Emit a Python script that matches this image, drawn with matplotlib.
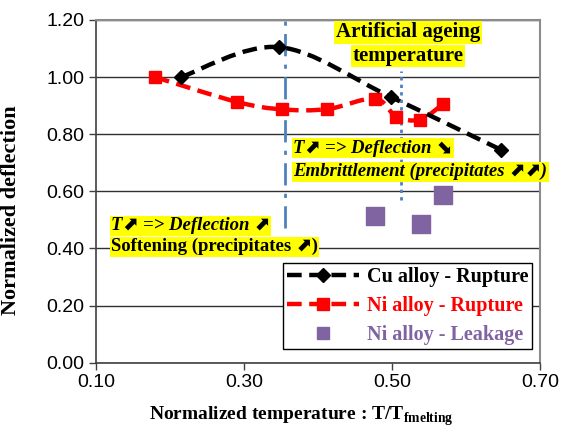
import matplotlib
matplotlib.use("Agg")
import matplotlib.pyplot as plt
import numpy as np
from matplotlib.lines import Line2D
from matplotlib.path import Path
from matplotlib.patches import PathPatch

# ---- data ----
cu_x = [0.215, 0.348, 0.499, 0.648]
cu_y = [1.00, 1.105, 0.93, 0.745]

ni_x = [0.18, 0.291, 0.352, 0.413, 0.477, 0.506, 0.538, 0.569]
ni_y = [1.00, 0.913, 0.887, 0.888, 0.925, 0.862, 0.851, 0.905]

leak_x = [0.477, 0.539, 0.569]
leak_y = [0.512, 0.487, 0.586]

x_ticks = [0.10, 0.30, 0.50, 0.70]
y_ticks = [0.00, 0.20, 0.40, 0.60, 0.80, 1.00, 1.20]

soft_line_x = 0.356
soft_line_y = [0.47, 1.20]
age_line_x = 0.512
age_line_y = [0.57, 1.02]

plt.rcParams['mathtext.fontset'] = 'custom'
plt.rcParams['mathtext.bf'] = 'Liberation Serif:bold'
plt.rcParams['mathtext.rm'] = 'Liberation Serif'


def smooth_path(xs, ys):
    pts = np.column_stack([xs, ys]).astype(float)
    n = len(pts)
    verts = [pts[0]]
    codes = [Path.MOVETO]
    for i in range(n - 1):
        p0 = pts[i - 1] if i > 0 else pts[i]
        p1 = pts[i]
        p2 = pts[i + 1]
        p3 = pts[i + 2] if i + 2 < n else pts[i + 1]
        c1 = p1 + (p2 - p0) / 6.0
        c2 = p2 - (p3 - p1) / 6.0
        verts += [c1, c2, p2]
        codes += [Path.CURVE4] * 3
    return Path(verts, codes)


fig = plt.figure(figsize=(5.67, 4.30), dpi=100)
ax = fig.add_axes([0.169, 0.1565, 0.783, 0.797])

ax.set_xlim(0.10, 0.70)
ax.set_ylim(0.0, 1.20)
ax.set_xticks(x_ticks)
ax.set_yticks(y_ticks)
ax.set_xticklabels([f"{v:.2f}" for v in x_ticks], family='Liberation Sans', fontsize=14)
ax.set_yticklabels([f"{v:.2f}" for v in y_ticks], family='Liberation Sans', fontsize=14)
ax.tick_params(direction='out', length=5, width=1, color='#404040', pad=3)
ax.grid(axis='y', color='#303030', linewidth=1)
ax.set_axisbelow(True)
for s in ['top', 'right']:
    ax.spines[s].set_color('#8c8c8c')
    ax.spines[s].set_linewidth(1.5)
for s in ['left', 'bottom']:
    ax.spines[s].set_color('#404040')
    ax.spines[s].set_linewidth(1.2)

blue = '#4F81BD'
ax.plot([soft_line_x, soft_line_x], soft_line_y, color=blue, lw=2, linestyle=(0, (8, 3, 1.5, 3)), zorder=2)
ax.plot([age_line_x, age_line_x], age_line_y, color=blue, lw=2, linestyle=(0, (1.2, 1.5)), zorder=2)

dash = (0, (3.3, 1.7))
ax.add_patch(PathPatch(smooth_path(cu_x, cu_y), fill=False, edgecolor='black', lw=3.2,
                       linestyle=dash, zorder=4))
ax.plot(cu_x, cu_y, linestyle='none', color='black', marker='D', markersize=7.5, zorder=5)
ax.add_patch(PathPatch(smooth_path(ni_x, ni_y), fill=False, edgecolor='#FF0000', lw=3.2,
                       linestyle=dash, zorder=3))
ax.plot(ni_x, ni_y, linestyle='none', color='#FF0000', marker='s', markersize=9, zorder=3.5)
ax.scatter(leak_x, leak_y, marker='s', s=170, color='#8064A2', zorder=3)

hl = dict(facecolor='#FFFF00', edgecolor='none', pad=1)
fam = ['Liberation Serif', 'DejaVu Sans']
NE = '\u2b08'
SE = '\u2b0a'

ax.text(0.522, 1.157, "Artificial ageing", ha='center', va='center', family=fam,
        fontweight='bold', fontsize=15, bbox=hl, zorder=6)
ax.text(0.522, 1.074, "temperature", ha='center', va='center', family=fam,
        fontweight='bold', fontsize=15, bbox=hl, zorder=6)

ax.text(0.367, 0.751, f"T{NE} => Deflection {SE}", ha='left', va='center', family=fam,
        fontweight='bold', fontstyle='italic', fontsize=13.5, bbox=hl, zorder=6)
ax.text(0.367, 0.669, f"Embrittlement (precipitates {NE}{NE})", ha='left', va='center', family=fam,
        fontweight='bold', fontstyle='italic', fontsize=13.5, bbox=hl, zorder=6)

ax.text(0.1203, 0.479, f"T{NE} => Deflection {NE}", ha='left', va='center', family=fam,
        fontweight='bold', fontstyle='italic', fontsize=13.5, bbox=hl, zorder=6)
ax.text(0.1203, 0.406, f"Softening (precipitates {NE})", ha='left', va='center', family=fam,
        fontweight='bold', fontsize=13.5, bbox=hl, zorder=6)

ax.set_xlabel("Normalized temperature : T/T$_{\\mathbf{fmelting}}$", family='Liberation Serif',
              fontweight='bold', fontsize=14)
ax.xaxis.set_label_coords(0.462, -0.122)
ax.set_ylabel("Normalized deflection", family='Liberation Serif', fontweight='bold',
              fontsize=16)
ax.yaxis.set_label_coords(-0.168, 0.446)

handles = [
    Line2D([], [], color='black', lw=3.2, linestyle=dash, marker='D', markersize=7.5),
    Line2D([], [], color='#FF0000', lw=3.2, linestyle=dash, marker='s', markersize=9),
    Line2D([], [], color='#8064A2', lw=0, marker='s', markersize=9),
]
labels = ["Cu alloy - Rupture", "Ni alloy - Rupture", "Ni alloy - Leakage"]
leg = ax.legend(handles, labels, loc='lower left', bbox_to_anchor=(0.421, 0.04, 0.561, 0.257),
                mode='expand', prop={'family': 'Liberation Serif', 'weight': 'bold', 'size': 14.5},
                frameon=True, fancybox=False, edgecolor='black', framealpha=1,
                handlelength=3.6, handletextpad=0.4, borderaxespad=0, borderpad=0.2,
                labelspacing=0.45)
leg.get_frame().set_linewidth(1)
leg.set_zorder(7)
for t, c in zip(leg.get_texts(), ['black', '#FF0000', '#8064A2']):
    t.set_color(c)

fig.savefig("out.png", dpi=100)
